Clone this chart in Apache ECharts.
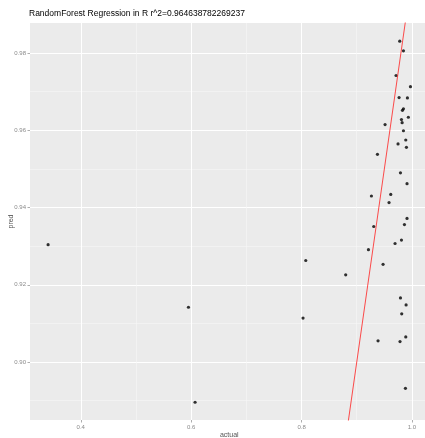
<!DOCTYPE html>
<html>
<head>
<meta charset="utf-8">
<script src="https://cdn.jsdelivr.net/npm/echarts@6/dist/echarts.min.js"></script>
<style>
html,body{margin:0;padding:0;background:#fff;}
#chart{width:425px;height:438px;}
</style>
</head>
<body>
<div id="chart"></div>
<script>
var titleText = "RandomForest Regression in R r^2=0.964638782269237";
var actual = [0.3408,0.5951,0.6071,0.8076,0.8027,0.8800,0.9779,0.9846,0.9712,0.9973,0.9767,0.9918,0.9846,0.9828,0.9810,0.9822,0.9935,0.9513,0.9846,0.9888,0.9748,0.9900,0.9375,0.9792,0.9911,0.9266,0.9616,0.9585,0.9911,0.9864,0.9308,0.9694,0.9810,0.9212,0.9477,0.9792,0.9894,0.9815,0.9386,0.9784,0.9888,0.9882];
var pred   = [0.9304,0.9142,0.8896,0.9263,0.9114,0.9226,0.9831,0.9806,0.9742,0.9713,0.9685,0.9684,0.9656,0.9652,0.9628,0.9620,0.9634,0.9615,0.9599,0.9575,0.9565,0.9556,0.9538,0.9490,0.9462,0.9430,0.9434,0.9413,0.9372,0.9356,0.9351,0.9307,0.9316,0.9291,0.9253,0.9166,0.9148,0.9125,0.9055,0.9053,0.9065,0.8932];
var xTicks = [0.4,0.6,0.8,1.0];
var xMinor = [0.5,0.7,0.9];
var yTicks = [0.90,0.92,0.94,0.96,0.98];
var yMinor = [0.89,0.91,0.93,0.95,0.97];
var identityLine = [0.88,1.0];

var xMin = 0.308, xMax = 1.030, yMin = 0.885, yMax = 0.9878;
var FONT = "Liberation Sans, Arial, sans-serif";

var points = actual.map(function(a,i){return [a,pred[i]];});
var lineData = identityLine.map(function(v){return [v,v];});

var chart = echarts.init(document.getElementById('chart'), null, {renderer:'canvas'});
var lab = {color:'#8a8a8a', fontSize:6, fontFamily:FONT};
chart.setOption({
  animation:false,
  backgroundColor:'#ffffff',
  title:{text:titleText,left:29,top:9,padding:0,
    textStyle:{fontSize:8.5,fontWeight:'normal',color:'#000',fontFamily:FONT}},
  grid:{left:30,top:23,width:398.5,height:397,show:true,backgroundColor:'#EBEBEB',borderWidth:0,containLabel:false,outerBoundsMode:'none'},
  xAxis:[
    {type:'value',min:xMin,max:xMax,name:'actual',nameLocation:'middle',nameGap:12,nameMoveOverlap:false,
     nameTextStyle:{color:'#555',fontSize:7,fontFamily:FONT},
     axisLine:{show:false},
     axisTick:{show:true,length:2.5,customValues:xTicks,lineStyle:{color:'#999',width:0.8}},
     axisLabel:{customValues:xTicks,margin:4,formatter:function(v){return v.toFixed(1);},color:lab.color,fontSize:lab.fontSize,fontFamily:FONT},
     splitLine:{show:true,lineStyle:{color:'#ffffff',width:1}}},
    {type:'value',min:xMin,max:xMax,gridIndex:0,position:'bottom',
     axisLine:{show:false},axisTick:{show:false,customValues:xMinor},
     axisLabel:{show:false,customValues:xMinor},
     splitLine:{show:true,lineStyle:{color:'#F6F6F6',width:0.6}}}
  ],
  yAxis:[
    {type:'value',min:yMin,max:yMax,name:'pred',nameLocation:'middle',nameGap:15,nameRotate:90,nameMoveOverlap:false,
     nameTextStyle:{color:'#555',fontSize:7,fontFamily:FONT},
     axisLine:{show:false},
     axisTick:{show:true,length:2.5,customValues:yTicks,lineStyle:{color:'#999',width:0.8}},
     axisLabel:{customValues:yTicks,margin:4,formatter:function(v){return v.toFixed(2);},color:lab.color,fontSize:lab.fontSize,fontFamily:FONT},
     splitLine:{show:true,lineStyle:{color:'#ffffff',width:1}}},
    {type:'value',min:yMin,max:yMax,gridIndex:0,position:'left',
     axisLine:{show:false},axisTick:{show:false,customValues:yMinor},
     axisLabel:{show:false,customValues:yMinor},
     splitLine:{show:true,lineStyle:{color:'#F6F6F6',width:0.6}}}
  ],
  series:[
    {type:'scatter',xAxisIndex:0,yAxisIndex:0,data:points,symbol:'circle',symbolSize:3.2,
     itemStyle:{color:'#000'},z:3},
    {type:'line',xAxisIndex:0,yAxisIndex:0,data:lineData,symbol:'none',clip:true,
     lineStyle:{color:'#FF2020',width:0.8},z:4}
  ]
});
</script>
</body>
</html>
